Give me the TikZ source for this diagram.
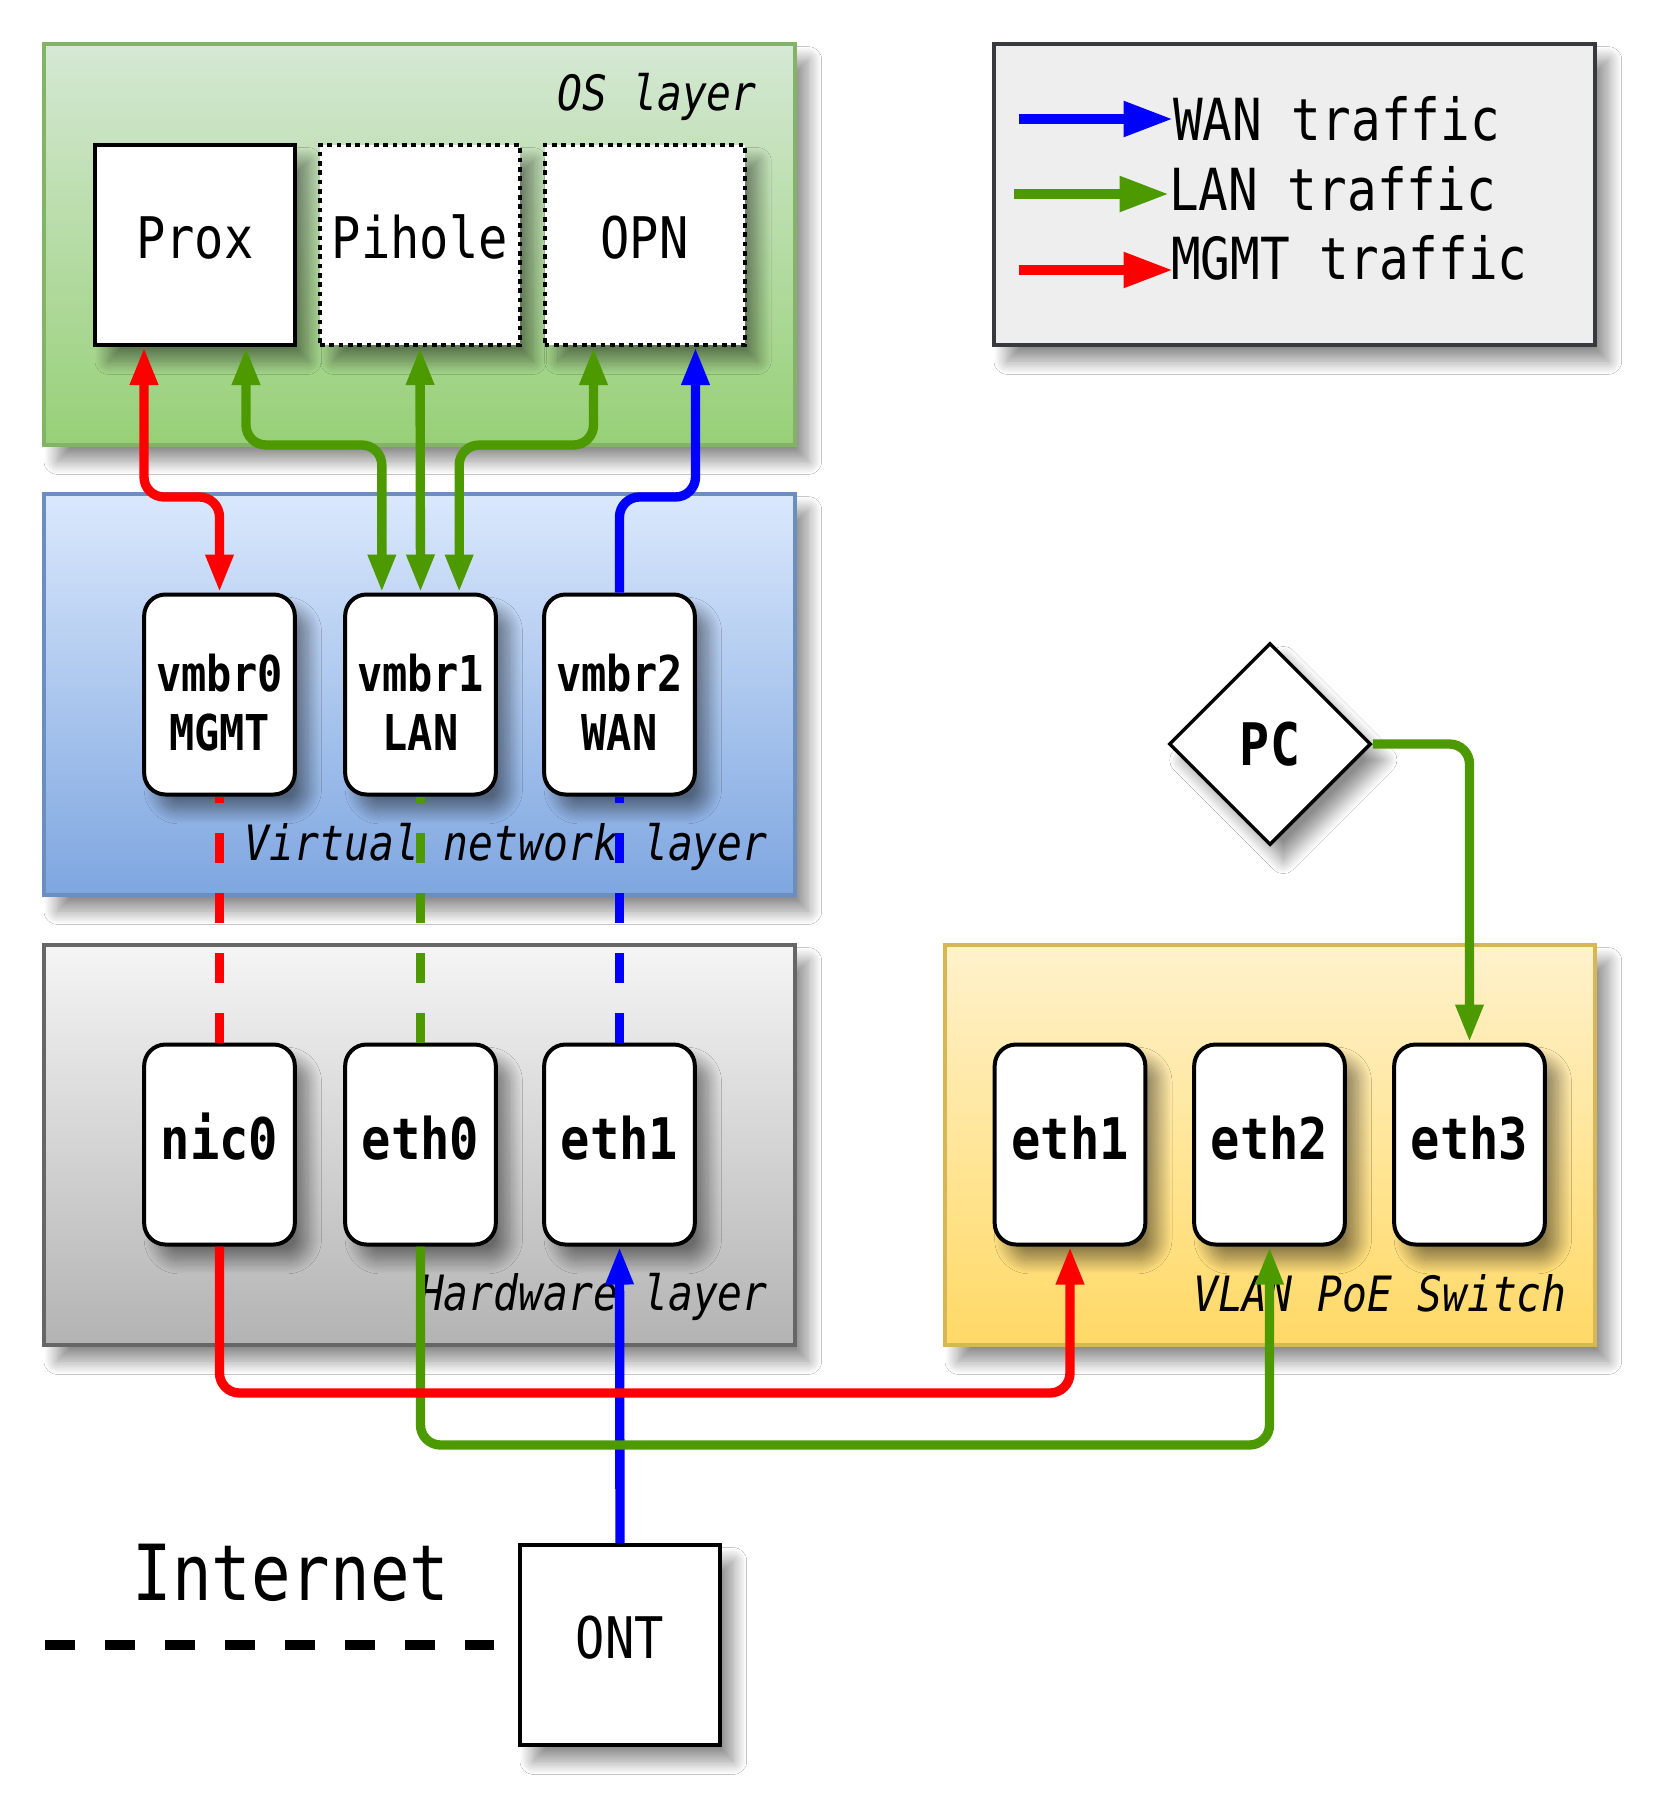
\documentclass[tikz,border=0pt]{standalone}
\usepackage{fontspec}
\newfontfamily\dmono{DejaVu Sans Mono}[FakeStretch=0.85]
\usetikzlibrary{shapes.geometric,arrows.meta,calc,shadows.blur}
\definecolor{osTop}{HTML}{D5E8D4}
\definecolor{osBot}{HTML}{97D077}
\definecolor{osLine}{HTML}{82B366}
\definecolor{vnTop}{HTML}{DAE8FC}
\definecolor{vnBot}{HTML}{7EA6E0}
\definecolor{vnLine}{HTML}{6C8EBF}
\definecolor{hwTop}{HTML}{F5F5F5}
\definecolor{hwBot}{HTML}{B3B3B3}
\definecolor{hwLine}{HTML}{666666}
\definecolor{swTop}{HTML}{FFF2CC}
\definecolor{swBot}{HTML}{FFD966}
\definecolor{swLine}{HTML}{D6B656}
\definecolor{lgFill}{HTML}{EEEEEE}
\definecolor{lgLine}{HTML}{36393D}
\definecolor{wanc}{HTML}{0000FF}
\definecolor{lanc}{HTML}{4D9900}
\definecolor{mgmtc}{HTML}{FF0000}
\tikzset{
  shad/.style={blur shadow={shadow xshift=10pt, shadow yshift=-12pt, shadow blur radius=10pt, shadow blur steps=20, shadow opacity=45}},
  layer/.style={rectangle, line width=3pt, inner sep=0pt, shad},
  osbox/.style={rectangle, draw=black, line width=3pt, fill=white, minimum width=150pt, minimum height=150pt, inner sep=0pt, shad, text height=31.3pt, text depth=11pt, font=\dmono\fontsize{43pt}{50pt}\selectfont},
  dotbox/.style={osbox, dash pattern=on 3.5pt off 3.5pt},
  port/.style={rectangle, rounded corners=16pt, draw=black, line width=3pt, fill=white, minimum width=113pt, minimum height=150pt, inner sep=0pt, shad, text height=32.7pt, text depth=10pt, font=\dmono\bfseries\fontsize{43pt}{50pt}\selectfont},
  vport/.style={rectangle, rounded corners=16pt, draw=black, line width=3pt, fill=white, minimum width=113pt, minimum height=150pt, inner sep=0pt, shad},
  vtext/.style={align=center, inner sep=0pt, font=\dmono\bfseries\fontsize{37pt}{44pt}\selectfont},
  laylabel/.style={anchor=base east, inner sep=0pt, font=\dmono\itshape\fontsize{36.5pt}{40pt}\selectfont},
  legtext/.style={anchor=base west, inner sep=0pt, font=\dmono\fontsize{43.5pt}{50pt}\selectfont},
  conn/.style={line width=7pt, rounded corners=15pt},
  dconn/.style={line width=7pt, dash pattern=on 22.5pt off 22.5pt},
  legarrow/.style={line width=7.5pt, -{Triangle[length=37pt,width=25pt]}},
  >={Triangle[length=28.5pt,width=19.5pt]},
}
\begin{document}
\begin{tikzpicture}[x=0.75pt,y=-0.75pt]
\useasboundingbox (0,0) rectangle (1660,1820);
\fill[white] (0,0) rectangle (1660,1820);

% layers
\node[layer, draw=osLine, top color=osTop, bottom color=osBot, minimum width=563.25pt, minimum height=300.75pt] (oslayer) at (419.5,244.5) {};
\node[layer, draw=vnLine, top color=vnTop, bottom color=vnBot, minimum width=563.25pt, minimum height=300.75pt] (vnlayer) at (419.5,694.5) {};
\node[layer, draw=hwLine, top color=hwTop, bottom color=hwBot, minimum width=563.25pt, minimum height=300pt] (hwlayer) at (419.5,1145) {};
\node[layer, draw=swLine, top color=swTop, bottom color=swBot, minimum width=487.5pt, minimum height=300pt] (swlayer) at (1270,1145) {};
\node[layer, draw=lgLine, fill=lgFill, line width=3.4pt, minimum width=450.75pt, minimum height=225.75pt] (legend) at (1294.5,194.5) {};

% layer labels
\node[laylabel] (oslab) at (757,110) {OS layer};
\node[laylabel] (vnlab) at (768,860) {Virtual network layer};
\node[laylabel] (hwlab) at (768,1310) {Hardware layer};
\node[laylabel] (swlab) at (1567,1311) {VLAN PoE Switch};

% OS boxes
\node[osbox] (prox) at (195,245) {Prox};
\node[dotbox] (pihole) at (420,245) {Pihole};
\node[dotbox] (opn) at (644.5,245) {OPN};

% virtual ports
\node[vport] (vmbr0) at (219.5,694.5) {};
\node[vport] (vmbr1) at (420.5,694.5) {};
\node[vport] (vmbr2) at (619.5,694.5) {};
\node[vtext] (vmbr0t) at ([yshift=-6pt]vmbr0.center) {vmbr0\\MGMT};
\node[vtext] (vmbr1t) at ([yshift=-6pt]vmbr1.center) {vmbr1\\LAN};
\node[vtext] (vmbr2t) at ([yshift=-6pt]vmbr2.center) {vmbr2\\WAN};

% hardware ports
\node[port] (nic0) at (219.5,1144.5) {nic0};
\node[port] (eth0) at (420.5,1144.5) {eth0};
\node[port] (eth1) at (619.5,1144.5) {eth1};

% switch ports
\node[port] (seth1) at (1070,1144.5) {eth1};
\node[port] (seth2) at (1269.5,1144.5) {eth2};
\node[port] (seth3) at (1469.5,1144.5) {eth3};

% PC
\node[diamond, aspect=1, draw=black, line width=2.6pt, fill=white, minimum width=151.5pt, minimum height=151.5pt, inner sep=0pt, shad, font=\dmono\bfseries\fontsize{44pt}{50pt}\selectfont] (pc) at (1270,744) {PC};

% ONT and Internet
\node[osbox] (ont) at (620,1645) {ONT};
\node[anchor=base, inner sep=0pt, font=\dmono\fontsize{58pt}{64pt}\selectfont] (inet) at (291,1600) {Internet};
\coordinate (netL) at (45,1645);
\draw[line width=7pt, dash pattern=on 22.5pt off 22.5pt] (netL) -- ([xshift=-18pt]ont.west);

% helper anchor points
\coordinate (pxa) at ($(prox.south west)!0.25!(prox.south east)$);
\coordinate (pxb) at ($(prox.south west)!0.75!(prox.south east)$);
\coordinate (opa) at ($(opn.south west)!0.25!(opn.south east)$);
\coordinate (opb) at ($(opn.south west)!0.75!(opn.south east)$);
\coordinate (v1a) at ($(vmbr1.north west)!0.25!(vmbr1.north east)$);
\coordinate (v1b) at ($(vmbr1.north west)!0.75!(vmbr1.north east)$);

% top connectors
\draw[conn, mgmtc, <->] (pxa) |- (vmbr0.north |- 0,497) -- (vmbr0.north);
\draw[conn, lanc, <->] (pxb) |- (v1a |- 0,445) -- (v1a);
\draw[conn, lanc, <->] (pihole.south) -- (vmbr1.north);
\draw[conn, lanc, <->] (opa) |- (v1b |- 0,445) -- (v1b);
\draw[conn, wanc, ->] (vmbr2.north) |- (opb |- 0,497) -- (opb);

% dashed links
\draw[dconn, mgmtc] (nic0.north) -- (vmbr0.south);
\draw[dconn, lanc] (eth0.north) -- (vmbr1.south);
\draw[dconn, wanc] (eth1.north) -- (vmbr2.south);

% bottom connectors
\draw[conn, wanc, ->] (ont.north) -- (eth1.south);
\draw[conn, lanc, ->] (eth0.south) |- (seth2.south |- 0,1445) -- (seth2.south);
\draw[conn, mgmtc, ->] (nic0.south) |- (seth1.south |- 0,1393) -- (seth1.south);
\draw[conn, lanc, ->] (pc.east) -| (seth3.north);

% legend
\coordinate (lw1) at (1019,119);
\coordinate (lw2) at (1173,119);
\coordinate (ll1) at (1014,194);
\coordinate (ll2) at (1169,194);
\coordinate (lm1) at (1019,270);
\coordinate (lm2) at (1173,270);
\draw[legarrow, wanc] (lw1) -- (lw2);
\draw[legarrow, lanc] (ll1) -- (ll2);
\draw[legarrow, mgmtc] (lm1) -- (lm2);
\node[legtext] (lgw) at (1173,140) {WAN traffic};
\node[legtext] (lgl) at (1169,210) {LAN traffic};
\node[legtext] (lgm) at (1171,279) {MGMT traffic};
\end{tikzpicture}
\end{document}
